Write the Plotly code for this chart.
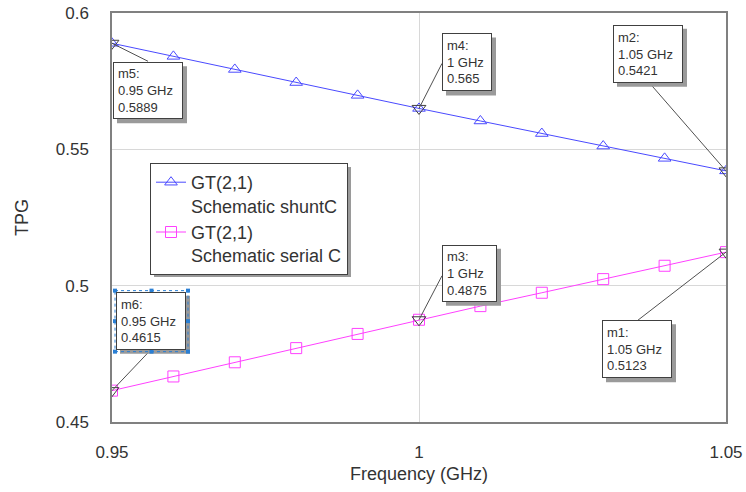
import plotly.graph_objects as go

freq = [0.95, 0.96, 0.97, 0.98, 0.99, 1.00, 1.01, 1.02, 1.03, 1.04, 1.05]
tpg_shunt = [0.5889, 0.5841, 0.5793, 0.5745, 0.5698, 0.5650, 0.5604, 0.5558, 0.5512, 0.5467, 0.5421]
tpg_serial = [0.4615, 0.4667, 0.4719, 0.4771, 0.4823, 0.4875, 0.4925, 0.4974, 0.5024, 0.5073, 0.5123]

marker_names = ["m5", "m4", "m2", "m6", "m3", "m1"]
marker_freq = [0.95, 1.00, 1.05, 0.95, 1.00, 1.05]
marker_vals = [0.5889, 0.565, 0.5421, 0.4615, 0.4875, 0.5123]
marker_freq_text = ["0.95 GHz", "1 GHz", "1.05 GHz", "0.95 GHz", "1 GHz", "1.05 GHz"]
marker_val_text = ["0.5889", "0.565", "0.5421", "0.4615", "0.4875", "0.5123"]

x_ticks = [0.95, 1.0, 1.05]
x_ticktext = ["0.95", "1", "1.05"]
y_ticks = [0.45, 0.5, 0.55, 0.6]
y_ticktext = ["0.45", "0.5", "0.55", "0.6"]

# layout of marker boxes (pixel offsets from the marked point): left, top(down), width, height, leader end dx, dy(down)
box_layout = {
    "m5": (1, 19, 70, 57, 36, 18),
    "m4": (23, -75, 50, 58, 23, -45),
    "m2": (-113, -146, 70, 58, -74, -85),
    "m6": (4, -99, 70, 58, 38, -40),
    "m3": (23, -75, 55, 57, 23, -44),
    "m1": (-124, 68, 70, 58, -88, 68),
}

FONT = "Liberation Sans, Arial, sans-serif"
BLUE = "#4a4aff"
MAGENTA = "#ff40ff"
SHADOW = "#9a9a9a"

fig = go.Figure()
fig.add_trace(go.Scatter(
    x=freq, y=tpg_shunt, mode="lines+markers",
    name="GT(2,1)<br>Schematic shuntC",
    line=dict(color=BLUE, width=1),
    marker=dict(symbol="triangle-up-open", size=11, color=BLUE, line=dict(width=1, color=BLUE)),
))
fig.add_trace(go.Scatter(
    x=freq, y=tpg_serial, mode="lines+markers",
    name="GT(2,1)<br>Schematic serial C",
    line=dict(color=MAGENTA, width=1),
    marker=dict(symbol="square-open", size=11, color=MAGENTA, line=dict(width=1, color=MAGENTA)),
))
fig.add_trace(go.Scatter(
    x=marker_freq, y=marker_vals, mode="markers", showlegend=False,
    marker=dict(symbol="triangle-down-open", size=12, color="#404040", line=dict(width=1, color="#404040")),
))

annotations = []
shapes = []
for name, fx, fy, ft, vt in zip(marker_names, marker_freq, marker_vals, marker_freq_text, marker_val_text):
    left, top, w, h, ldx, ldy = box_layout[name]
    text = f"{name}:<br>{ft}<br>{vt}"
    # leader line
    shapes.append(dict(type="line", xref="x", yref="y", xsizemode="pixel", ysizemode="pixel",
                       xanchor=fx, yanchor=fy, x0=0, y0=0, x1=ldx, y1=-ldy,
                       line=dict(color="#505050", width=1), layer="above"))
    # shadow
    shapes.append(dict(type="rect", xref="x", yref="y", xsizemode="pixel", ysizemode="pixel",
                       xanchor=fx, yanchor=fy, x0=left + 4, x1=left + w + 4,
                       y0=-(top + 4), y1=-(top + h + 4),
                       fillcolor=SHADOW, line=dict(width=0), layer="above"))
    annotations.append(dict(x=fx, y=fy, xref="x", yref="y", xanchor="left", yanchor="top",
                            showarrow=False, align="left", valign="middle",
                            width=w - 10, height=h - 10, borderpad=4,
                            font=dict(family=FONT, size=13, color="#333333"), text=text,
                            xshift=left, yshift=-top, bgcolor="white",
                            bordercolor="#404040", borderwidth=1))
    if name == "m6":
        x0, x1 = left - 1, left + w + 2
        y0, y1 = -(top - 1), -(top + h + 2)
        shapes.append(dict(type="rect", xref="x", yref="y", xsizemode="pixel", ysizemode="pixel",
                           xanchor=fx, yanchor=fy, x0=x0, x1=x1, y0=y0, y1=y1,
                           line=dict(color="#2a7fd4", width=1, dash="dot"), layer="above"))
        for fxr in (0, 0.5, 1):
            for fyr in (0, 0.5, 1):
                if fxr == 0.5 and fyr == 0.5:
                    continue
                cx = x0 + (x1 - x0) * fxr
                cy = y0 + (y1 - y0) * fyr
                shapes.append(dict(type="rect", xref="x", yref="y", xsizemode="pixel", ysizemode="pixel",
                                   xanchor=fx, yanchor=fy, x0=cx - 2, x1=cx + 2, y0=cy - 2, y1=cy + 2,
                                   fillcolor="#2a7fd4", line=dict(width=0), layer="above"))

# legend shadow (paper coords over plot area)
PL, PT, PW, PH = 112, 13, 614, 409
def px2paper_x(p):
    return (p - PL) / PW
def px2paper_y(p):
    return 1 - (p - PT) / PH
shapes.append(dict(type="rect", xref="paper", yref="paper",
                   x0=px2paper_x(154), x1=px2paper_x(351), y0=px2paper_y(277), y1=px2paper_y(167),
                   fillcolor=SHADOW, line=dict(width=0), layer="above"))

fig.update_layout(
    width=746, height=492,
    margin=dict(l=PL, r=746 - PL - PW, t=PT, b=492 - PT - PH, autoexpand=False),
    paper_bgcolor="white", plot_bgcolor="white",
    font=dict(family=FONT, size=17, color="#333333"),
    showlegend=True,
    legend=dict(x=px2paper_x(150), y=px2paper_y(163), xanchor="left", yanchor="top",
                bgcolor="white", bordercolor="#404040", borderwidth=1,
                font=dict(family=FONT, size=18, color="#333333"),
                valign="top", tracegroupgap=2, itemwidth=30),
    annotations=annotations,
    shapes=shapes,
    xaxis=dict(range=[0.95, 1.05], tickvals=x_ticks, ticktext=x_ticktext, automargin=False,
               showgrid=True, gridcolor="#d8d8d8", gridwidth=1, zeroline=False,
               showline=True, linecolor="#808080", linewidth=1.5, mirror=True,
               ticks="", ticklabelstandoff=14, tickfont=dict(size=17),
               title=dict(text="Frequency (GHz)", font=dict(size=18), standoff=6)),
    yaxis=dict(range=[0.45, 0.6], tickvals=y_ticks, ticktext=y_ticktext, automargin=False,
               showgrid=True, gridcolor="#d8d8d8", gridwidth=1, zeroline=False,
               showline=True, linecolor="#808080", linewidth=1.5, mirror=True,
               ticks="", ticklabelstandoff=18, tickfont=dict(size=17),
               title=dict(text="TPG", font=dict(size=18), standoff=22)),
)

fig.write_html("out.html")
